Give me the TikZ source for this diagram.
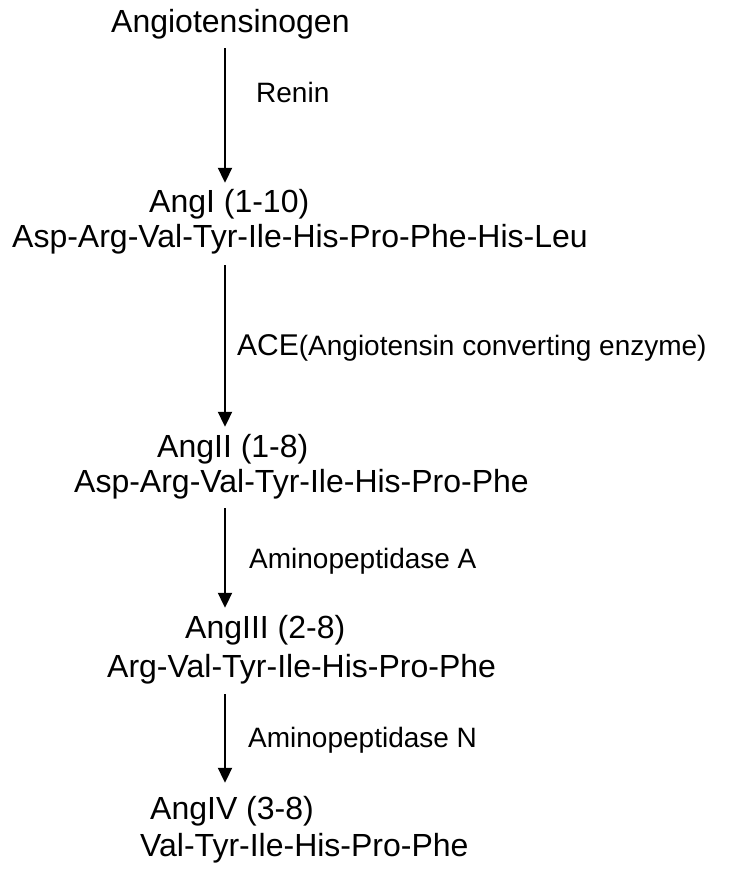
\documentclass[tikz,border=0pt]{standalone}
\usepackage{fontspec}
\setmainfont{Liberation Sans}
\usetikzlibrary{arrows.meta}
\tikzset{
  pep/.style={inner sep=0pt, anchor=base west, text height=23pt, text depth=7pt,
              font=\fontsize{32}{38}\selectfont},
  enz/.style={inner sep=0pt, anchor=base west, font=\fontsize{28}{34}\selectfont},
  step arrow/.style={line width=2pt, -{Triangle[width=14pt,length=15pt]}},
}
\begin{document}
\begin{tikzpicture}[x=1pt,y=-1pt]
  \useasboundingbox[fill=white] (0,0) rectangle (739,869);
  \coordinate (ax) at (225,0);

  % peptides
  \node[pep] (agt)  at (111,33)  {Angiotensinogen};
  \node[pep] (a1)   at (149,212) {AngI (1-10)};
  \node[pep] (s1)   at (12,247)  {Asp-Arg-Val-Tyr-Ile-His-Pro-Phe-His-Leu};
  \node[pep] (a2)   at (157,457) {AngII (1-8)};
  \node[pep] (s2)   at (74,492)  {Asp-Arg-Val-Tyr-Ile-His-Pro-Phe};
  \node[pep] (a3)   at (185,638) {AngIII (2-8)};
  \node[pep] (s3)   at (107,677) {Arg-Val-Tyr-Ile-His-Pro-Phe};
  \node[pep] (a4)   at (150,819) {AngIV (3-8)};
  \node[pep] (s4)   at (140,856) {Val-Tyr-Ile-His-Pro-Phe};

  % enzymes
  \node[enz] (renin) at (256,103) {Renin};
  \node[enz] (ace)   at (237,355) {{\fontsize{30}{34}\selectfont ACE}(Angiotensin converting enzyme)};
  \node[enz] (apa)   at (249,568) {Aminopeptidase A};
  \node[enz] (apn)   at (248,747) {Aminopeptidase N};

  % conversion steps
  \draw[step arrow, shorten <=8pt, shorten >=6pt]   (agt.south -| ax) -- (a1.north -| ax);
  \draw[step arrow, shorten <=11pt, shorten >=7pt]  (s1.south -| ax)  -- (a2.north -| ax);
  \draw[step arrow, shorten <=9pt, shorten >=7pt]   (s2.south -| ax)  -- (a3.north -| ax);
  \draw[step arrow, shorten <=10pt, shorten >=13pt] (s3.south -| ax)  -- (a4.north -| ax);
\end{tikzpicture}
\end{document}
